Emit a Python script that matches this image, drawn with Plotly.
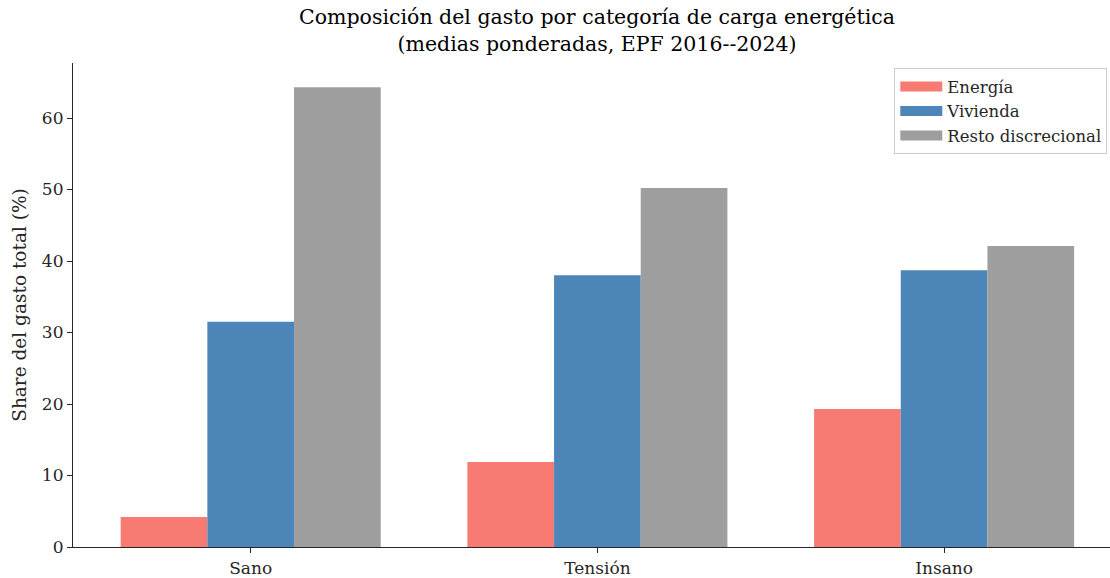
import plotly.graph_objects as go

# Expenditure shares (%) by energy-burden category
categorias = ["Sano", "Tensión", "Insano"]
energia = [4.2, 11.9, 19.3]
vivienda = [31.5, 38.0, 38.7]
resto = [64.3, 50.2, 42.1]

series = [
    ("Energía", energia, "#F77B72"),
    ("Vivienda", vivienda, "#4C86B8"),
    ("Resto discrecional", resto, "#9E9E9E"),
]

FONT = "DejaVu Serif"
INK = "#262626"

fig = go.Figure()
for nombre, valores, color in series:
    fig.add_trace(go.Bar(
        x=categorias, y=valores, name=nombre,
        marker=dict(color=color, line=dict(width=0)),
        showlegend=False,
    ))
# wide patch-style legend keys
for nombre, valores, color in series:
    fig.add_trace(go.Scatter(
        x=[None], y=[None], mode="lines", name=nombre,
        line=dict(color=color, width=12),
    ))

fig.update_layout(
    width=1110, height=578,
    margin=dict(l=73, r=0, t=63, b=31, autoexpand=False),
    paper_bgcolor="white", plot_bgcolor="white",
    font=dict(family=FONT, size=17, color=INK),
    barmode="group", bargap=0.25, bargroupgap=0,
    showlegend=True,
    legend=dict(
        x=0.792, y=0.989, xanchor="left", yanchor="top",
        bgcolor="rgba(255,255,255,0.8)", bordercolor="#CCCCCC", borderwidth=1,
        font=dict(family=FONT, size=16.5, color=INK),
        tracegroupgap=0, itemwidth=42,
    ),
    annotations=[dict(
        text="Composición del gasto por categoría de carga energética<br>(medias ponderadas, EPF 2016--2024)",
        xref="paper", yref="paper", x=0.5053, y=1.0, yshift=5,
        xanchor="center", yanchor="bottom", showarrow=False,
        font=dict(family=FONT, size=20.5, color="black"),
    )],
)

fig.update_xaxes(
    range=[-0.5125, 2.4785],
    showline=True, linecolor=INK, linewidth=1.25,
    ticks="outside", ticklen=5, tickcolor=INK, tickwidth=1,
    showgrid=False, zeroline=False,
    tickfont=dict(family=FONT, size=17, color=INK),
)
fig.update_yaxes(
    range=[0, 67.7],
    tickvals=[0, 10, 20, 30, 40, 50, 60],
    showline=True, linecolor=INK, linewidth=1.25,
    ticks="outside", ticklen=5, tickcolor=INK, tickwidth=1,
    showgrid=False, zeroline=False,
    tickfont=dict(family=FONT, size=17, color=INK),
    title=dict(text="Share del gasto total (%)", standoff=10,
               font=dict(family=FONT, size=18.5, color=INK)),
)

fig.write_html("out.html")
